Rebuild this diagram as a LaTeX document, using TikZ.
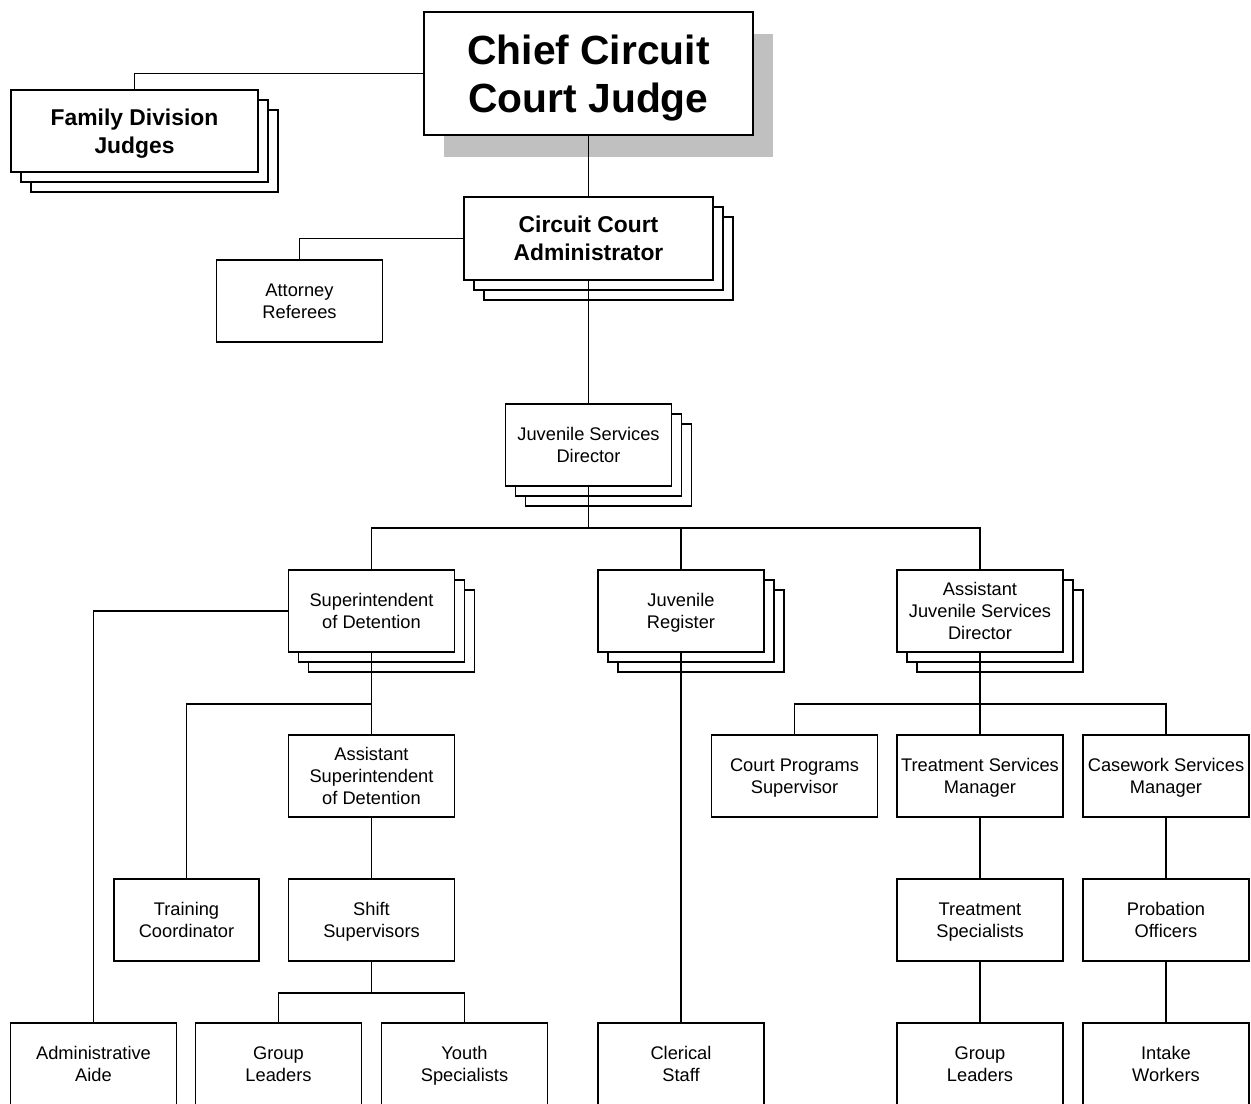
\documentclass[tikz,border=0pt]{standalone}
\usepackage{fontspec}
\setmainfont{Liberation Sans}
\usetikzlibrary{shadows}
\definecolor{shadowgray}{RGB}{192,192,192}
\begin{document}
\begin{tikzpicture}[x = 0.02cm, y = -0.02cm,
    box/.style = {draw, line width = 0.9pt, fill = white, align = center, inner sep = 0pt,
      minimum width = 3.32cm, minimum height = 1.64cm, font = \fontsize{10.4}{12.5}\selectfont,
      execute at begin node = \strut, text depth = 0pt},
    stack/.style = {box, copy shadow = {shadow xshift = 0.4cm, shadow yshift = -0.4cm},
      copy shadow = {shadow xshift = 0.2cm, shadow yshift = -0.2cm}},
    bigtext/.style = {font = \fontsize{13}{15.9}\selectfont\bfseries},
    link/.style = {line width = 0.6pt}]
      \useasboundingbox (0, 0) rectangle (1251, 1104);
      \clip (0, 0) rectangle (1251, 1104);

      \node[box, minimum width = 6.58cm, minimum height = 2.46cm,
        general shadow = {shadow xshift = 0.4cm, shadow yshift = -0.44cm, fill = shadowgray},
        font = \fontsize{23.2}{27.3}\selectfont\bfseries] (chief) at (588.5, 73.5) {Chief Circuit\\Court Judge};
      \node[stack, bigtext, minimum width = 4.94cm] (family) at (134.5, 131) {Family Division\\Judges};
      \node[stack, bigtext, minimum width = 4.98cm, minimum height = 1.66cm] (cca) at (588.5, 238.5) {Circuit Court\\Administrator};
      \node[box] (atty) at (299.5, 301) {Attorney\\Referees};
      \node[stack] (jsd) at (588.5, 445) {Juvenile Services\\Director};

      \node[stack] (sup) at (371.5, 611) {Superintendent\\of Detention};
      \node[stack] (jreg) at (681, 611) {Juvenile\\Register};
      \node[stack] (ajsd) at (980, 611) {Assistant\\Juvenile Services\\Director};

      \node[box] (asd) at (371.5, 776) {Assistant\\Superintendent\\of Detention};
      \node[box] (cps) at (794.5, 776) {Court Programs\\Supervisor};
      \node[box] (tsm) at (980, 776) {Treatment Services\\Manager};
      \node[box] (csm) at (1166, 776) {Casework Services\\Manager};

      \node[box, minimum width = 2.9cm] (train) at (186.5, 920) {Training\\Coordinator};
      \node[box] (shift) at (371.5, 920) {Shift\\Supervisors};
      \node[box] (tspec) at (980, 920) {Treatment\\Specialists};
      \node[box] (prob) at (1166, 920) {Probation\\Officers};

      \node[box] (aide) at (93.5, 1064) {Administrative\\Aide};
      \node[box] (grpa) at (278.5, 1064) {Group\\Leaders};
      \node[box] (youth) at (464.5, 1064) {Youth\\Specialists};
      \node[box] (clerk) at (681, 1064) {Clerical\\Staff};
      \node[box] (grpb) at (980, 1064) {Group\\Leaders};
      \node[box] (intake) at (1166, 1064) {Intake\\Workers};

      \coordinate (jsdbus) at (588.5, 528);
      \coordinate (suptap) at (371.5, 704);
      \coordinate (shiftbus) at (371.5, 993);
      \coordinate (ajsdbus) at (980, 704);

      \draw[link] (chief.west) -| (family.north);
      \draw[link] (chief.south) -- (cca.north);
      \draw[link] (cca.west) -| (atty.north);
      \draw[link] (cca.south) -- (jsd.north);
      \draw[link] (jsd.south) -- (jsdbus);
      \draw[link] (sup.north) |- (jsdbus) -| (ajsd.north);
      \draw[link] (jreg.north) -- (jreg.north |- jsdbus);

      \draw[link] (sup.west) -| (aide.north);
      \draw[link] (sup.south) -- (asd.north);
      \draw[link] (suptap) -| (train.north);
      \draw[link] (asd.south) -- (shift.north);
      \draw[link] (shift.south) -- (shiftbus);
      \draw[link] (grpa.north) |- (shiftbus) -| (youth.north);
      \draw[link] (jreg.south) -- (clerk.north);

      \draw[link] (ajsd.south) -- (tsm.north);
      \draw[link] (cps.north) |- (ajsdbus) -| (csm.north);
      \draw[link] (tsm.south) -- (tspec.north);
      \draw[link] (tspec.south) -- (grpb.north);
      \draw[link] (csm.south) -- (prob.north);
      \draw[link] (prob.south) -- (intake.north);
\end{tikzpicture}
\end{document}
